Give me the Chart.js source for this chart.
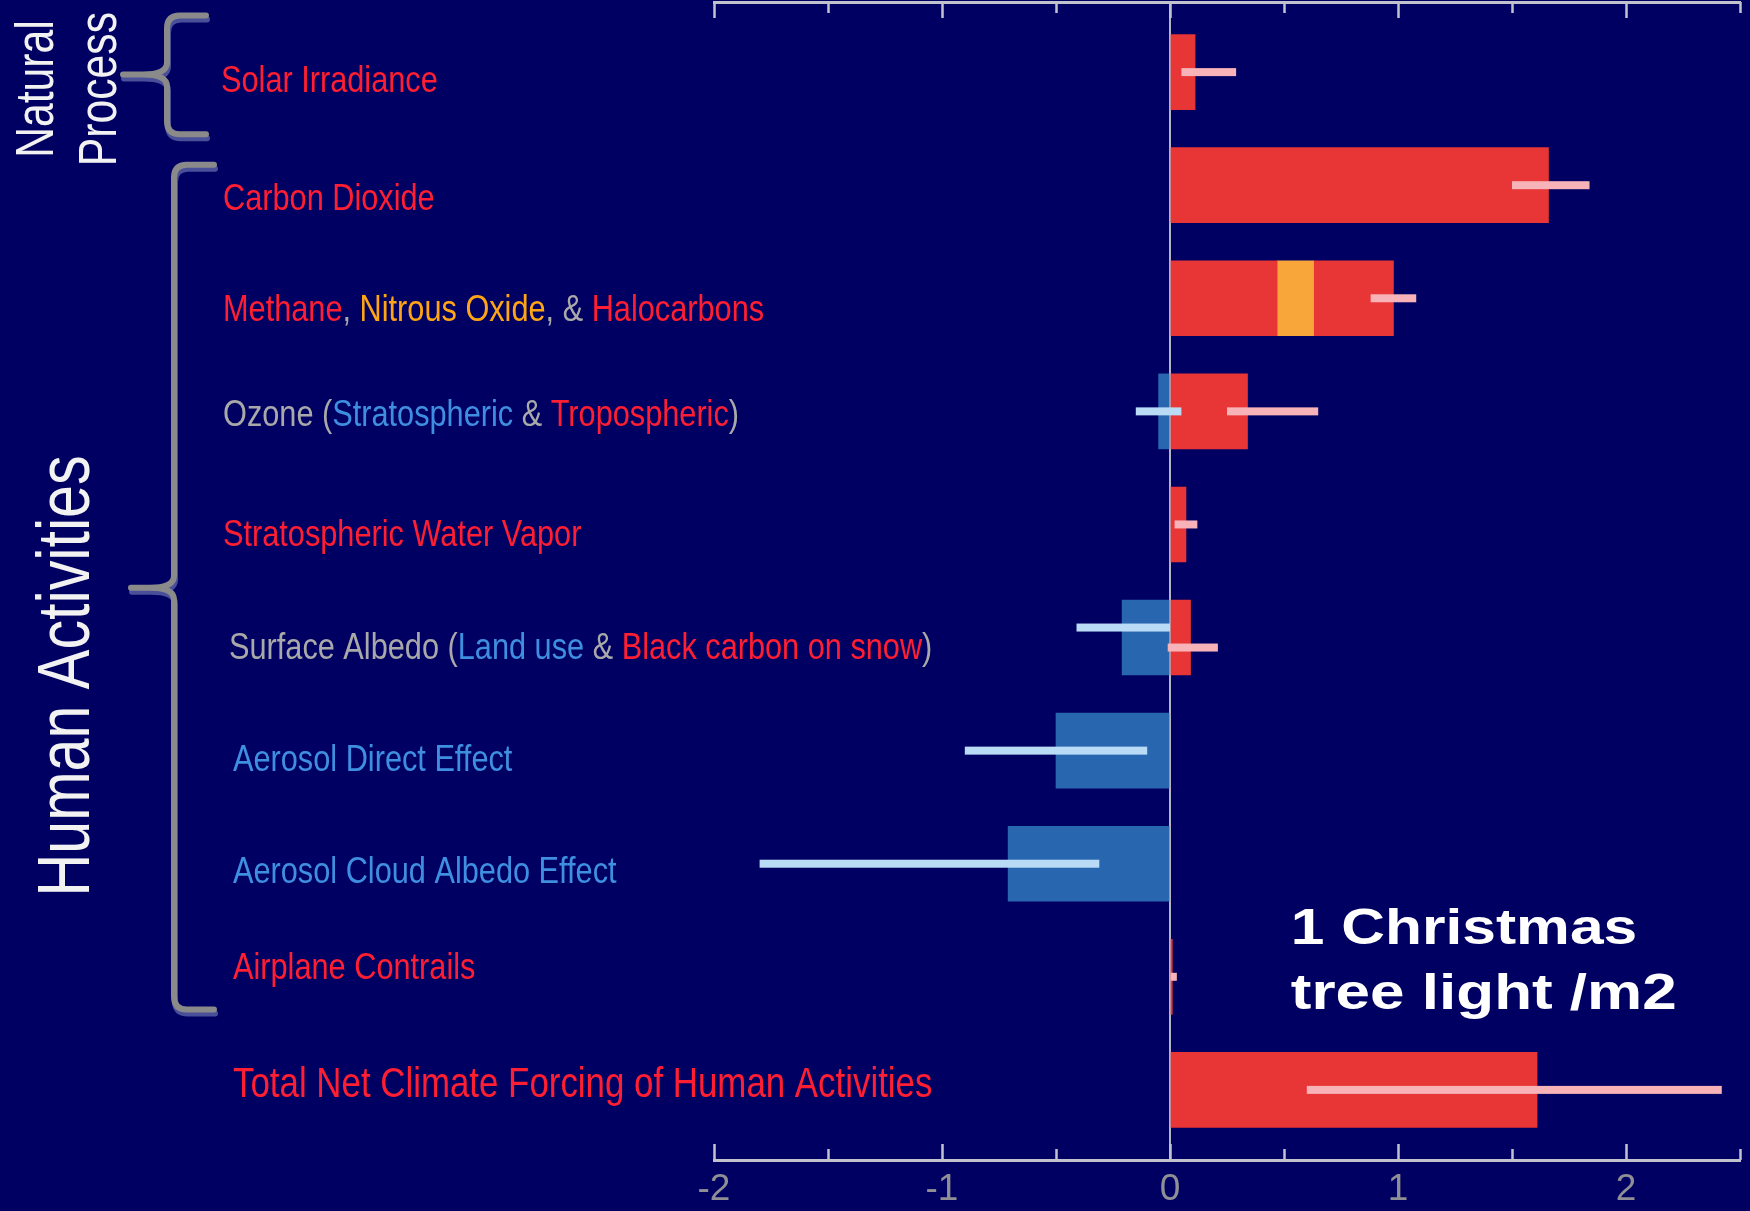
<!DOCTYPE html>
<html>
<head>
<meta charset="utf-8">
<script src="https://cdn.jsdelivr.net/npm/chart.js@4/dist/chart.umd.min.js"></script>
<style>
  html, body { margin: 0; padding: 0; background: #000062; overflow: hidden; }
  canvas { display: block; }
</style>
</head>
<body>
<canvas id="chart" width="1750" height="1211" style="width:1750px;height:1211px"></canvas>
<script>
// ---------------- DATA ----------------
const categories = [
  'Solar Irradiance',
  'Carbon Dioxide',
  'Methane, Nitrous Oxide, & Halocarbons',
  'Ozone (Stratospheric & Tropospheric)',
  'Stratospheric Water Vapor',
  'Surface Albedo (Land use & Black carbon on snow)',
  'Aerosol Direct Effect',
  'Aerosol Cloud Albedo Effect',
  'Airplane Contrails',
  'Total Net Climate Forcing of Human Activities'
];
// label pieces with the kind of forcing each piece names (coloured by kind)
const labelSegments = [
  [['Solar Irradiance', 'warm']],
  [['Carbon Dioxide', 'warm']],
  [['Methane', 'warm'], [', ', 'neutral'], ['Nitrous Oxide', 'n2o'], [', & ', 'neutral'], ['Halocarbons', 'warm']],
  [['Ozone (', 'neutral'], ['Stratospheric', 'cool'], [' & ', 'neutral'], ['Tropospheric', 'warm'], [')', 'neutral']],
  [['Stratospheric Water Vapor', 'warm']],
  [['Surface Albedo (', 'neutral'], ['Land use', 'cool'], [' & ', 'neutral'], ['Black carbon on snow', 'warm'], [')', 'neutral']],
  [['Aerosol Direct Effect', 'cool']],
  [['Aerosol Cloud Albedo Effect', 'cool']],
  [['Airplane Contrails', 'warm']],
  [['Total Net Climate Forcing of Human Activities', 'warm']]
];
// radiative forcing, W/m2
const warming      = [0.11, 1.66, 0.47, 0.34, 0.07, 0.09, null, null, 0.01, 1.61];
const nitrousOxide = [null, null, 0.16, null, null, null, null, null, null, null];
const halocarbons  = [null, null, 0.35, null, null, null, null, null, null, null];
const cooling      = [null, null, null, -0.05, null, -0.21, -0.50, -0.71, null, null];
// uncertainty ranges
const warmLow  = [0.05, 1.50, 0.88, 0.25, 0.02, -0.01, null, null, 0.003, 0.60];
const warmHigh = [0.29, 1.84, 1.08, 0.65, 0.12, 0.21, null, null, 0.03, 2.42];
const coolLow  = [null, null, null, -0.15, null, -0.41, -0.90, -1.80, null, null];
const coolHigh = [null, null, null, 0.05, null, 0.00, -0.10, -0.31, null, null];
// axis
const tickValues = [-2, -1, 0, 1, 2];
const tickLabels = ['-2', '-1', '0', '1', '2'];
// groups: names and the rows they span (row units: first, last, tip)
const groupNames = [['Natural', 'Process'], ['Human Activities']];
const groupSpans = [[-0.5, 0.55, 0.02], [0.82, 8.29, 4.56]];
const noteLines = ['1 Christmas', 'tree light /m2'];

// ---------------- STYLE ----------------
const BG = '#000062';
const RED = '#e83535', ORANGE = '#f8a53a', BLUE = '#2866b0';
const ERR_WARM = '#f7b3b8', ERR_COOL = '#b9dbf5';
const AXIS = '#c2c2cc', TICK_TEXT = '#8f8f95';
const TEXT_COLORS = { warm: '#ff1e32', cool: '#3f8fe0', neutral: '#a9a9a9', n2o: '#ffa515' };
const labelX = [221, 223, 223, 223, 223, 229, 233, 233, 233, 233];
const labelBaseline = [20, 25, 23, 15, 22, 21, 20, 19, 2, 7];
const labelSize = [37, 37, 37, 37, 37, 37, 37, 37, 37, 42];
const LABEL_SQUEEZE = 0.83;

function hasFont(name) {
  const c = document.createElement('canvas').getContext('2d');
  c.font = '40px monospace';
  const a = c.measureText('abcdefghijk0123').width;
  c.font = '40px "' + name + '", monospace';
  return c.measureText('abcdefghijk0123').width !== a;
}
const tickFamily = hasFont('Liberation Sans Narrow') ? '"Liberation Sans Narrow", "Liberation Sans", Arial, sans-serif'
                                                     : '"Liberation Sans", Arial, sans-serif';

const toPoints = arr => arr.map((v, i) => v == null ? null : { x: v, y: i }).filter(Boolean);

function drawErr(ctx, xs, lo, hi, yc, color) {
  const a = xs.getPixelForValue(lo), b = xs.getPixelForValue(hi);
  ctx.fillStyle = color;
  ctx.fillRect(Math.min(a, b), yc - 4, Math.abs(b - a), 8);
}

function bracePath(ctx, xv, xEnd, top, bottom, tipX, tipY) {
  const r = 13, r2 = 12;
  ctx.beginPath();
  ctx.moveTo(xEnd, top);
  ctx.lineTo(xv + r, top);
  ctx.quadraticCurveTo(xv, top, xv, top + r);
  ctx.lineTo(xv, tipY - r2);
  ctx.quadraticCurveTo(xv, tipY, xv - r2 * 2, tipY);
  ctx.lineTo(tipX, tipY);
  ctx.moveTo(xv - r2 * 2, tipY);
  ctx.quadraticCurveTo(xv, tipY, xv, tipY + r2);
  ctx.lineTo(xv, bottom - r);
  ctx.quadraticCurveTo(xv, bottom, xv + r, bottom);
  ctx.lineTo(xEnd, bottom);
}

const overlay = {
  id: 'overlay',
  beforeDraw(chart) {
    const { ctx, width, height } = chart;
    ctx.save();
    ctx.fillStyle = BG;
    ctx.fillRect(0, 0, width, height);
    ctx.restore();
  },
  afterDatasetsDraw(chart) {
    const ctx = chart.ctx, xs = chart.scales.x, ys = chart.scales.y;
    ctx.save();
    categories.forEach((_, i) => {
      const yc = ys.getPixelForValue(i);
      let offCool = 0, offWarm = 0;
      if (coolHigh[i] != null && warmLow[i] != null && coolHigh[i] >= warmLow[i]) { offCool = -10; offWarm = 10; }
      if (coolLow[i] != null) drawErr(ctx, xs, coolLow[i], coolHigh[i], yc + offCool, ERR_COOL);
      if (warmLow[i] != null) drawErr(ctx, xs, warmLow[i], warmHigh[i], yc + offWarm, ERR_WARM);
    });
    ctx.restore();
  },
  afterDraw(chart) {
    const ctx = chart.ctx, xs = chart.scales.x, ys = chart.scales.y, area = chart.chartArea;
    ctx.save();
    // inward tick marks on top and bottom axes
    ctx.strokeStyle = AXIS;
    ctx.lineWidth = 2.5;
    xs.ticks.forEach(t => {
      const px = Math.round(xs.getPixelForValue(t.value)) + 0.5;
      const len = tickValues.includes(t.value) ? 16 : 11;
      ctx.beginPath();
      ctx.moveTo(px, area.top); ctx.lineTo(px, area.top + len);
      ctx.moveTo(px, area.bottom); ctx.lineTo(px, area.bottom - len);
      ctx.stroke();
    });
    // category labels
    ctx.textBaseline = 'alphabetic';
    ctx.textAlign = 'left';
    labelSegments.forEach((parts, i) => {
      const y = ys.getPixelForValue(i) + labelBaseline[i];
      ctx.save();
      ctx.translate(labelX[i], y);
      ctx.scale(LABEL_SQUEEZE, 1);
      ctx.font = labelSize[i] + 'px "Liberation Sans", Arial, sans-serif';
      let cx = 0;
      parts.forEach(([text, kind]) => {
        ctx.fillStyle = TEXT_COLORS[kind];
        ctx.fillText(text, cx, 0);
        cx += ctx.measureText(text).width;
      });
      ctx.restore();
    });
    // braces
    const braceGeom = [{ xv: 167, xEnd: 206, tipX: 123 }, { xv: 174, xEnd: 214, tipX: 131 }];
    groupSpans.forEach((s, g) => {
      const top = ys.getPixelForValue(s[0]), bottom = ys.getPixelForValue(s[1]), tipY = ys.getPixelForValue(s[2]);
      const b = braceGeom[g];
      ctx.lineCap = 'round'; ctx.lineJoin = 'round';
      ctx.lineWidth = 6;
      ctx.save(); ctx.translate(1, 4);
      ctx.strokeStyle = '#4a4f9a';
      bracePath(ctx, b.xv, b.xEnd, top, bottom, b.tipX, tipY); ctx.stroke();
      ctx.restore();
      ctx.strokeStyle = '#8a8a8a';
      bracePath(ctx, b.xv, b.xEnd, top, bottom, b.tipX, tipY); ctx.stroke();
    });
    // group names (rotated)
    ctx.fillStyle = '#f2f2f2';
    ctx.textAlign = 'center';
    const groupText = [
      { size: 54, base: [52.5, 116], cy: ys.getPixelForValue(0.15) },
      { size: 75, base: [89], cy: ys.getPixelForValue(5.34) }
    ];
    groupNames.forEach((lines, g) => {
      const gt = groupText[g];
      lines.forEach((line, k) => {
        ctx.save();
        ctx.translate(gt.base[k], gt.cy);
        ctx.rotate(-Math.PI / 2);
        ctx.scale(0.79, 1);
        ctx.font = gt.size + 'px "Liberation Sans", Arial, sans-serif';
        ctx.fillText(line, 0, 0);
        ctx.restore();
      });
    });
    // annotation
    ctx.textAlign = 'left';
    ctx.fillStyle = '#ffffff';
    const nx = xs.getPixelForValue(0.53), ny = ys.getPixelForValue(7.71);
    noteLines.forEach((line, k) => {
      ctx.save();
      ctx.translate(nx, ny + k * 65);
      ctx.scale(k === 0 ? 1.21 : 1.24, 1);
      ctx.font = 'bold 50px "Liberation Sans", Arial, sans-serif';
      ctx.fillText(line, 0, 0);
      ctx.restore();
    });
    ctx.restore();
  }
};

new Chart(document.getElementById('chart'), {
  type: 'bar',
  data: {
    datasets: [
      { label: 'Warming', data: toPoints(warming), backgroundColor: RED },
      { label: 'Nitrous Oxide', data: toPoints(nitrousOxide), backgroundColor: ORANGE },
      { label: 'Halocarbons', data: toPoints(halocarbons), backgroundColor: RED },
      { label: 'Cooling', data: toPoints(cooling), backgroundColor: BLUE }
    ]
  },
  options: {
    indexAxis: 'y',
    responsive: false,
    animation: false,
    devicePixelRatio: 1,
    layout: { padding: { left: 714, right: 10, top: 2, bottom: 0 } },
    plugins: { legend: { display: false }, tooltip: { enabled: false } },
    datasets: { bar: { barThickness: 75, borderWidth: 0, xAxisID: 'x', yAxisID: 'y' } },
    scales: {
      x: {
        type: 'linear', position: 'bottom', min: -2, max: 2.5, stacked: true, z: 1,
        ticks: {
          stepSize: 0.5, autoSkip: false, maxRotation: 0, padding: 8,
          color: TICK_TEXT,
          font: { family: tickFamily, size: 37 },
          callback: v => { const k = tickValues.indexOf(v); return k >= 0 ? tickLabels[k] : ''; }
        },
        grid: {
          drawTicks: false, drawOnChartArea: true, lineWidth: 2,
          color: c => (c.tick && c.tick.value === 0) ? '#b4b4c0' : 'rgba(0,0,0,0)'
        },
        border: { display: true, color: AXIS, width: 3 },
        afterFit: s => { s.height = 51; }
      },
      x2: {
        type: 'linear', position: 'top', min: -2, max: 2.5,
        ticks: { display: false },
        grid: { display: false, drawTicks: false },
        border: { display: true, color: AXIS, width: 3 },
        afterFit: s => { s.height = 0; }
      },
      y: {
        type: 'linear', reverse: true, min: -0.62, max: 9.62, stacked: true,
        offset: false, grace: 0, display: false,
        ticks: { stepSize: 1 }
      }
    }
  },
  plugins: [overlay]
});
</script>
</body>
</html>
